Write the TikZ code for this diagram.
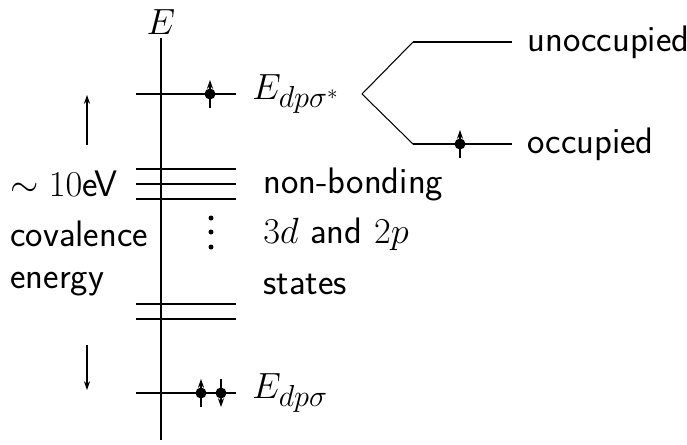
\documentclass[tikz,border=0pt]{standalone}
\usetikzlibrary{arrows.meta}
\DeclareMathSizes{21}{21}{17}{13}
\begin{document}
\begin{tikzpicture}[x=0.02cm,y=-0.02cm,
  level/.style={line width=1.2pt},
  sublevel/.style={line width=0.6pt},
  spin/.style={line width=0.6pt,-{Stealth[length=5pt,width=3.5pt]}},
  txt/.style={font=\sffamily\fontsize{21}{25}\selectfont,inner sep=0pt},
  spinup/.pic={\draw[spin] (0,14) -- (0,-14); \fill (0,0) circle (5.5);},
  spindown/.pic={\draw[spin] (0,-14) -- (0,14); \fill (0,0) circle (5.5);}]
\useasboundingbox (0,0) rectangle (687,444);
% energy axis
\draw[line width=0.8pt] (161,38) -- (161,440);
\node[txt] (E) at (161,22) {$E$};
% bonding and antibonding levels
\draw[level] (136,94) -- (236,94);
\draw[level] (136,393) -- (236,393);
\pic at (210,94) {spinup};
\pic at (201,393) {spinup};
\pic at (221,393) {spindown};
\node[txt,anchor=west] (Eanti) at (252,94) {$E_{dp\sigma^*}$};
\node[txt,anchor=west] (Ebond) at (252,393) {$E_{dp\sigma}$};
% non-bonding d and p states
\foreach \y in {169,184,199,304,319}
  \draw[sublevel] (136,\y) -- (236,\y);
\foreach \y in {218,232,247}
  \fill (211,\y) circle (2.5);
\node[txt,anchor=west] (nb) at (263,184) {non-bonding};
\node[txt,anchor=west] (dp) at (263,234) {$3d$ and $2p$};
\node[txt,anchor=west] (st) at (263,284) {states};
% covalence energy scale
\node[txt,anchor=west] (ev) at (10,184) {$\sim 10$eV};
\node[txt,anchor=west] (cov) at (10,234) {covalence};
\node[txt,anchor=west] (en) at (10,284) {energy};
\draw[spin] (87,145) -- (87,95);
\draw[spin] (87,345) -- (87,390);
% splitting of the antibonding level
\coordinate (split) at (362,94);
\coordinate (unocc) at (413,42);
\coordinate (occ) at (413,144);
\draw[sublevel] (unocc) -- (split) -- (occ);
\draw[sublevel] (unocc) -- (512,42);
\draw[sublevel] (occ) -- (512,144);
\pic at (460,144) {spinup};
\node[txt,anchor=west] (un) at (527,42) {unoccupied};
\node[txt,anchor=west] (oc) at (527,144) {occupied};
\end{tikzpicture}
\end{document}
